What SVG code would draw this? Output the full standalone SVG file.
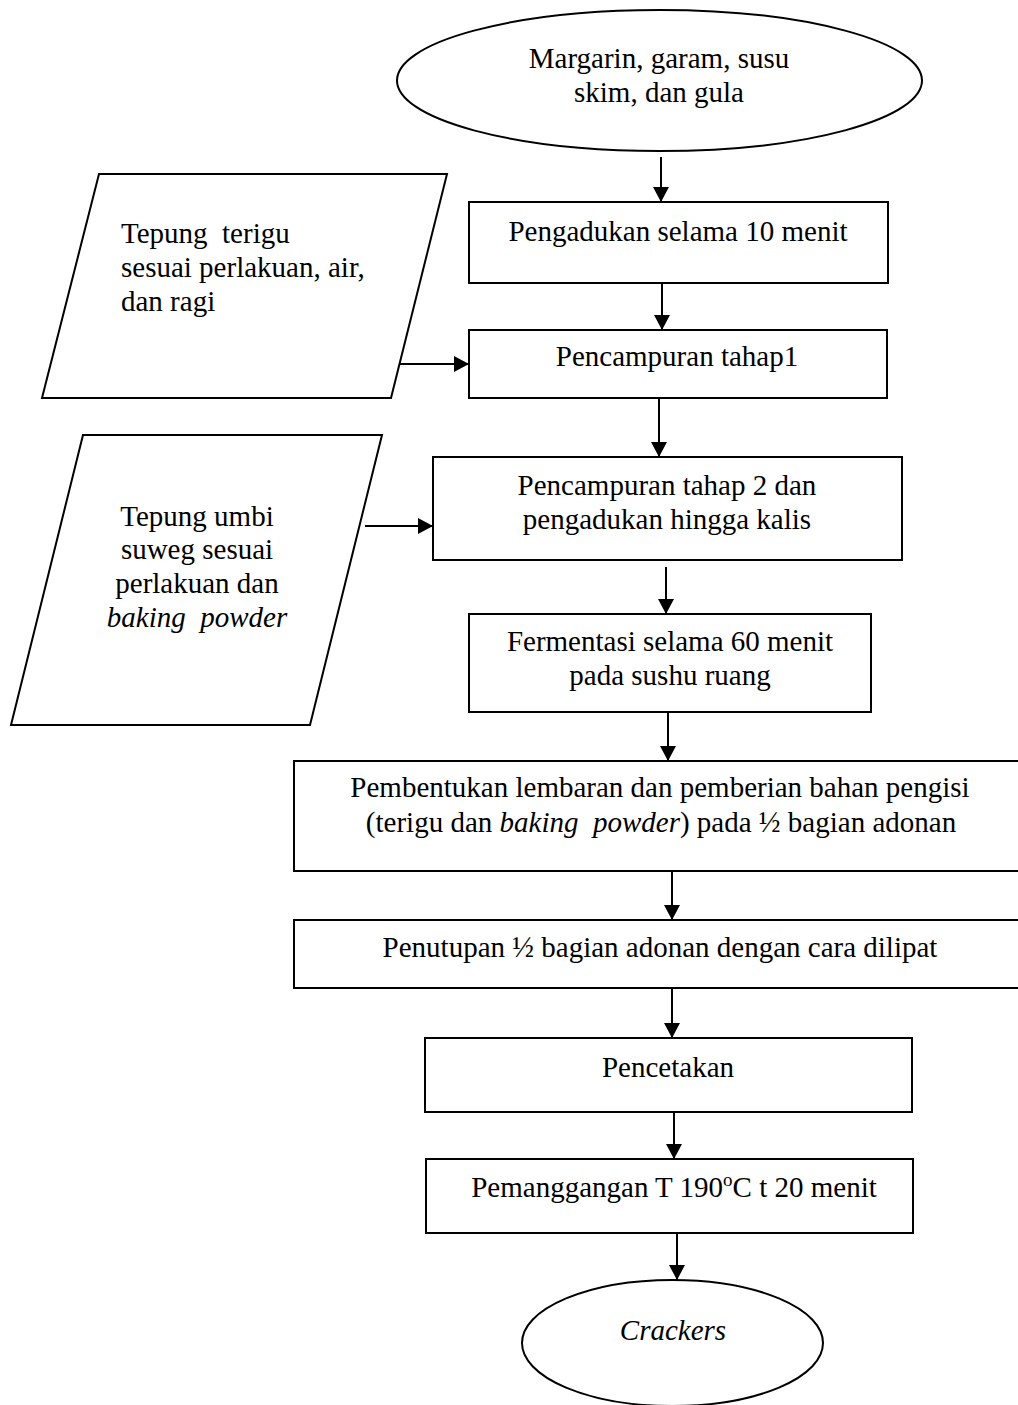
<svg xmlns="http://www.w3.org/2000/svg" width="1018" height="1405" viewBox="0 0 1018 1405">
<style>
.s{fill:#fff;stroke:#000;stroke-width:2}
.t{font-family:"Liberation Serif","Times New Roman",serif;font-size:29px;fill:#000;white-space:pre}
.c{text-anchor:middle}
.i{font-style:italic}
.e{stroke:#000;stroke-width:2;fill:none}
</style>
<defs>
<marker id="ah" markerUnits="userSpaceOnUse" markerWidth="15" markerHeight="16" viewBox="0 0 15 16" refX="15" refY="8" orient="auto"><path d="M0,0 L15,8 L0,16 z" fill="#000"/></marker>
</defs>
<rect width="1018" height="1405" fill="#fff"/>
<g id="connectors">
<line class="e" x1="661" y1="157" x2="661" y2="202" marker-end="url(#ah)"/>
<line class="e" x1="662" y1="283" x2="662" y2="330" marker-end="url(#ah)"/>
<line class="e" x1="400" y1="364" x2="469" y2="364" marker-end="url(#ah)"/>
<line class="e" x1="659" y1="398" x2="659" y2="457" marker-end="url(#ah)"/>
<line class="e" x1="365" y1="526" x2="433" y2="526" marker-end="url(#ah)"/>
<line class="e" x1="666" y1="567" x2="666" y2="614" marker-end="url(#ah)"/>
<line class="e" x1="668" y1="712" x2="668" y2="761" marker-end="url(#ah)"/>
<line class="e" x1="672" y1="871" x2="672" y2="920" marker-end="url(#ah)"/>
<line class="e" x1="672" y1="988" x2="672" y2="1038" marker-end="url(#ah)"/>
<line class="e" x1="674" y1="1112" x2="674" y2="1159" marker-end="url(#ah)"/>
<line class="e" x1="677" y1="1233" x2="677" y2="1280" marker-end="url(#ah)"/>
</g>
<g id="start">
<ellipse class="s" cx="659.5" cy="80.5" rx="262.5" ry="70.5"/>
<text class="t c" x="659" y="68">Margarin, garam, susu</text>
<text class="t c" x="659" y="102">skim, dan gula</text>
</g>
<g id="step1">
<rect class="s" x="469" y="202" width="419" height="81"/>
<text class="t c" x="678" y="241">Pengadukan selama 10 menit</text>
</g>
<g id="input1">
<polygon class="s" points="99,174 447,174 391,398 42,398"/>
<text class="t" x="121" y="243">Tepung  terigu</text>
<text class="t" x="121" y="277">sesuai perlakuan, air,</text>
<text class="t" x="121" y="311">dan ragi</text>
</g>
<g id="step2">
<rect class="s" x="469" y="330" width="418" height="68"/>
<text class="t c" x="677" y="366">Pencampuran tahap1</text>
</g>
<g id="input2">
<polygon class="s" points="83,435 382,435 310,725 11,725"/>
<text class="t c" x="197" y="526">Tepung umbi</text>
<text class="t c" x="197" y="559">suweg sesuai</text>
<text class="t c" x="197" y="593">perlakuan dan</text>
<text class="t c i" x="197" y="627">baking  powder</text>
</g>
<g id="step3">
<rect class="s" x="433" y="457" width="469" height="103"/>
<text class="t c" x="667" y="495">Pencampuran tahap 2 dan</text>
<text class="t c" x="667" y="529">pengadukan hingga kalis</text>
</g>
<g id="step4">
<rect class="s" x="469" y="614" width="402" height="98"/>
<text class="t c" x="670" y="651">Fermentasi selama 60 menit</text>
<text class="t c" x="670" y="685">pada sushu ruang</text>
</g>
<g id="step5">
<rect class="s" x="294" y="761" width="740" height="110"/>
<text class="t c" x="660" y="797">Pembentukan lembaran dan pemberian bahan pengisi</text>
<text class="t c" x="661" y="832">(terigu dan <tspan class="i">baking  powder</tspan>) pada ½ bagian adonan</text>
</g>
<g id="step6">
<rect class="s" x="294" y="920" width="740" height="68"/>
<text class="t c" x="660" y="957">Penutupan ½ bagian adonan dengan cara dilipat</text>
</g>
<g id="step7">
<rect class="s" x="425" y="1038" width="487" height="74"/>
<text class="t c" x="668" y="1077">Pencetakan</text>
</g>
<g id="step8">
<rect class="s" x="426" y="1159" width="487" height="74"/>
<text class="t c" x="674" y="1197">Pemanggangan T 190<tspan font-size="19" dy="-11">o</tspan><tspan dy="11">C t 20 menit</tspan></text>
</g>
<g id="end">
<ellipse class="s" cx="672.5" cy="1343" rx="150.5" ry="63"/>
<text class="t c i" x="673" y="1340">Crackers</text>
</g>
</svg>
